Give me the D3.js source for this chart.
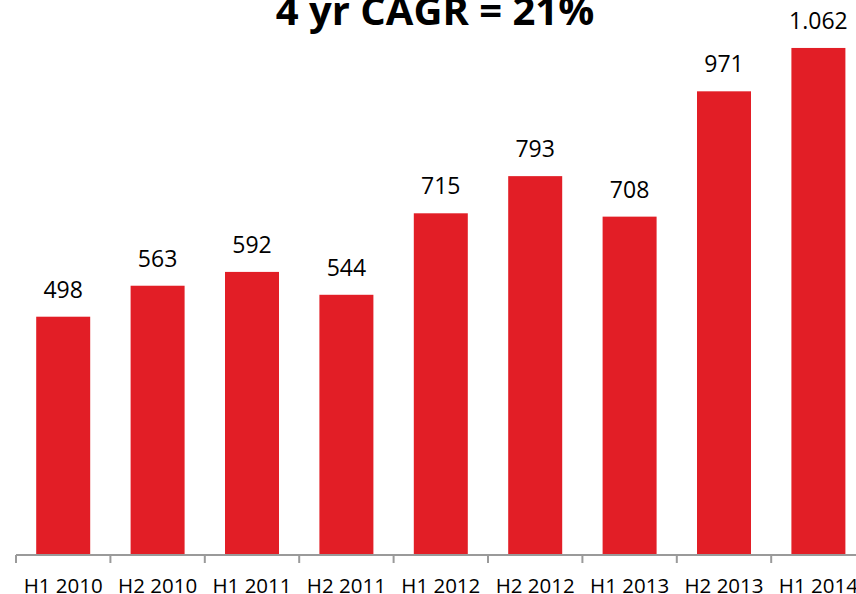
<!DOCTYPE html>
<html>
<head>
<meta charset="utf-8">
<script src="https://cdn.jsdelivr.net/npm/d3@7"></script>
<style>
  body { margin: 0; background: #fff; }
  svg { display: block; }
</style>
</head>
<body>
<div id="bar-chart"></div>
<script>
// half-year values
var periods = ["H1 2010", "H2 2010", "H1 2011", "H2 2011", "H1 2012", "H2 2012", "H1 2013", "H2 2013", "H1 2014"];
var values = [498, 563, 592, 544, 715, 793, 708, 971, 1062];
var title = "4 yr CAGR = 21%";

var width = 856, height = 594;
var baseY = 554;

var chart = d3.select("#bar-chart").append("svg")
    .attr("width", width)
    .attr("height", height);

var x = d3.scaleBand()
    .domain(periods)
    .range([16, 865.6])
    .paddingInner(0.428)
    .paddingOuter(0.214);

var y = d3.scaleLinear()
    .domain([0, 1200])
    .range([baseY, baseY - 1200 * 0.4765]);

// european style thousands separator
var fmt = d3.formatLocale({decimal: ",", thousands: ".", grouping: [3], currency: ["", ""]}).format(",d");

chart.append("text")
    .attr("x", 435)
    .attr("y", 25)
    .attr("text-anchor", "middle")
    .attr("font-family", "Open Sans")
    .attr("font-weight", "bold")
    .attr("font-size", 40)
    .attr("fill", "#000")
    .text(title);

chart.selectAll(".bar").data(values).enter().append("rect")
    .attr("class", "bar")
    .attr("x", function(d, i) { return x(periods[i]); })
    .attr("y", function(d) { return y(d); })
    .attr("width", x.bandwidth())
    .attr("height", function(d) { return y(0) - y(d); })
    .attr("fill", "#e21e26");

chart.selectAll(".val").data(values).enter().append("text")
    .attr("class", "val")
    .attr("x", function(d, i) { return x(periods[i]) + x.bandwidth() / 2; })
    .attr("y", function(d) { return y(d) - 19; })
    .attr("text-anchor", "middle")
    .attr("font-family", "Open Sans")
    .attr("font-size", 23)
    .attr("fill", "#000")
    .text(function(d) { return fmt(d); });

// x axis: line with ticks between categories
var step = x.step();
var edge = (step - x.bandwidth()) / 2;
var axis = chart.append("g").attr("stroke", "#9a9a9a").attr("stroke-width", 2);
axis.append("line")
    .attr("x1", 16).attr("x2", width)
    .attr("y1", baseY + 1).attr("y2", baseY + 1);
axis.selectAll(".tick").data(periods).enter().append("line")
    .attr("x1", function(d) { return x(d) - edge; })
    .attr("x2", function(d) { return x(d) - edge; })
    .attr("y1", baseY + 1).attr("y2", baseY + 9);

chart.selectAll(".cat").data(periods).enter().append("text")
    .attr("class", "cat")
    .attr("x", function(d) { return x(d) + x.bandwidth() / 2; })
    .attr("y", 593)
    .attr("text-anchor", "middle")
    .attr("font-family", "Open Sans")
    .attr("font-size", 20.5)
    .attr("fill", "#000")
    .text(function(d) { return d; });
</script>
</body>
</html>
